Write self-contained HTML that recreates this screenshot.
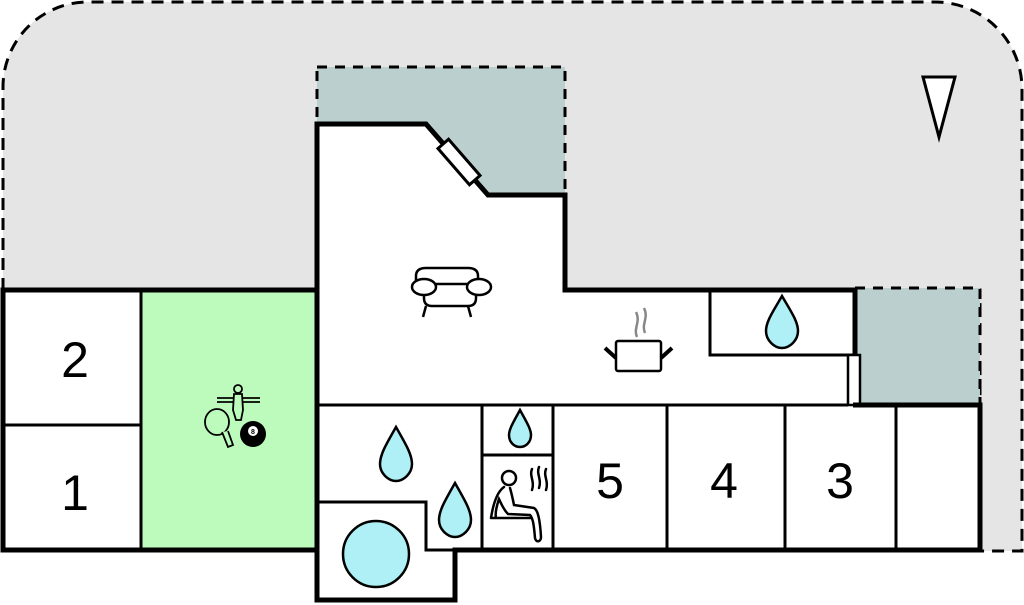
<!DOCTYPE html>
<html><head><meta charset="utf-8"><style>
html,body{margin:0;padding:0;background:#fff}
svg{display:block}
text{font-family:"Liberation Sans",sans-serif}
</style></head><body>
<svg width="1024" height="605" viewBox="0 0 1024 605" xmlns="http://www.w3.org/2000/svg">
<path d="M3,290 L3,88 A85,85 0 0 1 88,2 L935,2 A87,87 0 0 1 1022,89 L1022,551 L980,551 L980,290 Z" fill="#e5e5e5" stroke="#000" stroke-width="3" stroke-dasharray="12,8"/>
<rect x="317" y="67" width="248" height="128" fill="#bccfcf" stroke="#000" stroke-width="3" stroke-dasharray="10,8"/>
<rect x="855" y="288" width="125" height="117" fill="#bccfcf" stroke="#000" stroke-width="3" stroke-dasharray="10,8"/>
<rect x="3" y="290" width="138" height="260" fill="#fff"/>
<rect x="141" y="290" width="176" height="260" fill="#bdfbbd"/>
<path d="M317,550 L317,124 L426,124 L488,195 L565,195 L565,290 L855,290 L855,405 L980,405 L980,550 L455,550 L455,600 L317,600 Z" fill="#fff"/>
<g stroke="#000" stroke-width="3" fill="none">
<line x1="3" y1="425" x2="141" y2="425"/>
<line x1="141" y1="290" x2="141" y2="550"/>
<line x1="317" y1="405" x2="848" y2="405"/>
<line x1="482" y1="405" x2="482" y2="550"/>
<line x1="553" y1="405" x2="553" y2="550"/>
<line x1="667" y1="405" x2="667" y2="550"/>
<line x1="785" y1="405" x2="785" y2="550"/>
<line x1="896" y1="405" x2="896" y2="550"/>
<line x1="482" y1="455" x2="553" y2="455"/>
<polyline points="317,502 426,502 426,550 455,550"/>
<polyline points="710,290 710,355 855,355"/>
<rect x="848" y="355" width="12" height="50" fill="#fff" stroke-width="2.5"/>
</g>
<g stroke="#000" stroke-width="5" fill="none" stroke-linejoin="miter">
<rect x="3" y="290" width="314" height="260"/>
<path d="M317,550 L317,124 L426,124 L488,195 L565,195 L565,290 L855,290 L855,355"/>
<path d="M853,405 L980,405 L980,550 L455,550 L455,600 L317,600 L317,548"/>
</g>
<g transform="translate(459,162) rotate(49)">
<rect x="-24" y="-7" width="48" height="14" fill="#fff" stroke="#000" stroke-width="3"/>
</g>
<polygon points="923,77 955,77 939,137" fill="#fff" stroke="#000" stroke-width="3"/>
<g font-size="50" text-anchor="middle" fill="#000">
<text x="75" y="377">2</text>
<text x="75" y="510">1</text>
<text x="610" y="498">5</text>
<text x="724" y="498">4</text>
<text x="840" y="498">3</text>
</g>
<g fill="#aef0f6" stroke="#000" stroke-width="2.5">
<path d="M396,427 C405,443 412,454 412,464 C412,473 404,481 396,481 C388,481 380,473 380,464 C380,454 387,443 396,427 Z"/>
<path d="M455,483 C464,499 471,510 471,520 C471,529 463,537 455,537 C447,537 439,529 439,520 C439,510 446,499 455,483 Z"/>
<path d="M520,410 C526,421 531,429 531,435 C531,442 526,447 520,447 C514,447 509,442 509,435 C509,429 514,421 520,410 Z"/>
<path d="M782,296 C790,310 798,321 798,331 C798,340 790,348 782,348 C774,348 766,340 766,331 C766,321 774,310 782,296 Z"/>
<circle cx="376" cy="554" r="33"/>
</g>
<g fill="#fff" stroke="#000" stroke-width="2.5">
<path d="M416,292 L416,276 Q416,268 426,268 L468,268 Q478,268 478,276 L478,292 Z"/>
<path d="M424,284 L424,298 Q424,306 432,306 L468,306 Q476,306 476,298 L476,284 Z"/>
<ellipse cx="424" cy="287" rx="12" ry="8"/>
<ellipse cx="479" cy="287" rx="12" ry="8"/>
<line x1="426" y1="306" x2="423" y2="317"/>
<line x1="468" y1="306" x2="471" y2="317"/>
</g>
<g stroke="#000" stroke-width="2.5" fill="#fff">
<rect x="616" y="341" width="45" height="30" rx="2"/>
<line x1="605" y1="348" x2="616" y2="358" stroke-width="4"/>
<line x1="672" y1="348" x2="661" y2="358" stroke-width="4"/>
<path d="M637,337 C633,328 641,322 636,312" stroke="#888" fill="none"/>
<path d="M645,333 C641,324 649,318 644,308" stroke="#888" fill="none"/>
</g>
<g stroke="#000" stroke-width="2.5" fill="none" stroke-linecap="round">
<circle cx="509" cy="478" r="7"/>
<path d="M504,487 C497,492 493,505 491,518 M510,488 C512,495 513,500 514,505 L534,508 C538,510 540,520 541,537 C541,542 536,543 535,538 C534,526 533,518 530,515 L508,514 C503,509 501,503 499,499 C496,508 495,514 496,518 M491,518 L531,518"/>
<path d="M532,469 C529,476 535,481 532,490 M539,467 C536,474 542,479 539,488 M546,469 C543,476 549,481 546,490"/>
</g>
<g stroke="#000" stroke-width="1.8" fill="none">
<line x1="217" y1="398" x2="260" y2="398"/>
<line x1="217" y1="402" x2="260" y2="402"/>
<circle cx="238" cy="389" r="4" fill="#bdfbbd"/>
<path d="M234,394 L242,394 L243,410 L241,420 L236,420 L233,410 Z" fill="#bdfbbd"/>
<ellipse cx="217" cy="422" rx="12" ry="13" fill="#bdfbbd"/>
<path d="M222,432 L228,447 L233,445 L228,431" fill="#bdfbbd"/>
</g>
<circle cx="253" cy="434" r="13" fill="#000"/>
<circle cx="253" cy="431" r="5" fill="#fff"/>
<text x="253" y="434" font-size="7" font-weight="bold" text-anchor="middle" fill="#000">8</text>
</svg>
</body></html>
